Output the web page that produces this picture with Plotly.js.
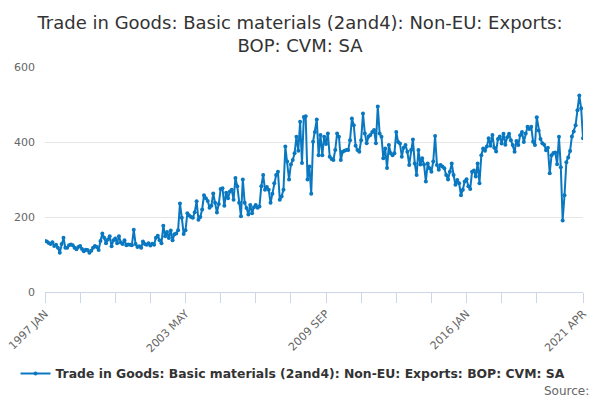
<!DOCTYPE html>
<html>
<head>
<meta charset="utf-8">
<script src="https://cdn.plot.ly/plotly-3.0.1.min.js"></script>
<style>
  body { margin: 0; background: #fff; }
  #chart { width: 600px; height: 400px; }
</style>
</head>
<body>
<div id="chart"></div>
<script>
var seriesName = 'Trade in Goods: Basic materials (2and4): Non-EU: Exports: BOP: CVM: SA';
var years = [1997, 1998, 1999, 2000, 2001, 2002, 2003, 2004, 2005, 2006, 2007, 2008,
  2009, 2010, 2011, 2012, 2013, 2014, 2015, 2016, 2017, 2018, 2019, 2020, 2021];
var months = ['JAN', 'FEB', 'MAR', 'APR', 'MAY', 'JUN', 'JUL', 'AUG', 'SEP', 'OCT', 'NOV', 'DEC'];
var lastMonth = '2021 APR';

// monthly values, one row per year
var values = [
  136, 135, 131, 128, 133, 123, 126, 118, 105, 128, 145, 118,
  118, 125, 127, 125, 118, 114, 120, 123, 115, 109, 113, 112,
  105, 110, 118, 123, 120, 112, 136, 156, 145, 130, 140, 149,
  122, 138, 143, 130, 149, 132, 128, 138, 125, 127, 126, 125,
  166, 128, 120, 122, 118, 135, 128, 126, 130, 124, 129, 126,
  145, 150, 138, 130, 177, 149, 160, 144, 164, 138, 154, 156,
  165, 236, 198, 155, 165, 210, 204, 200, 198, 213, 242, 193,
  200, 220, 258, 250, 243, 225, 230, 263, 238, 212, 235, 275,
  277, 230, 265, 250, 268, 273, 246, 304, 282, 238, 202, 300,
  238, 224, 207, 232, 210, 226, 232, 225, 228, 282, 312, 273,
  280, 273, 238, 262, 290, 312, 321, 246, 255, 273, 388, 348,
  300, 340, 352, 370, 414, 377, 454, 344, 467, 469, 300, 335,
  262, 401, 427, 460, 365, 419, 365, 414, 395, 423, 361, 355,
  352, 379, 423, 414, 352, 374, 377, 379, 379, 405, 463, 445,
  390, 379, 374, 405, 476, 423, 397, 415, 419, 427, 432, 397,
  495, 423, 414, 357, 383, 331, 392, 370, 365, 370, 427, 400,
  396, 361, 385, 392, 374, 339, 379, 407, 343, 312, 379, 340,
  357, 340, 295, 343, 330, 321, 348, 416, 339, 326, 339, 335,
  330, 312, 300, 321, 343, 312, 286, 299, 290, 258, 273, 295,
  301, 282, 275, 321, 324, 308, 343, 290, 365, 383, 377, 388,
  410, 390, 419, 385, 375, 408, 415, 396, 422, 393, 413, 422,
  405, 392, 374, 403, 392, 418, 427, 400, 423, 441, 435, 441,
  401, 392, 466, 431, 408, 397, 393, 378, 385, 317, 365, 371,
  372, 341, 414, 333, 191, 258, 346, 359, 376, 415, 428, 445,
  485, 524, 490, 410
];
var tickLabels = ['1997 JAN', '2003 MAY', '2009 SEP', '2016 JAN', '2021 APR'];
var yTicks = [0, 200, 400, 600];

// build month categories up to the last month
var categories = [];
for (var a = 0; a < years.length; a++) {
  for (var m = 0; m < months.length; m++) {
    var lab = years[a] + ' ' + months[m];
    categories.push(lab);
    if (lab === lastMonth) break;
  }
}

// tick every 19 months, plus the last month
var tickvals = [];
var ticktext = [];
for (var i = 0; i < categories.length; i += 19) {
  if (categories.length - 1 - i < 10) break;
  tickvals.push(categories[i]);
}
tickvals.push(categories[categories.length - 1]);
for (var k = 0; k < tickvals.length; k++) {
  ticktext.push(tickLabels.indexOf(tickvals[k]) >= 0 ? tickvals[k] : '');
}

var trace = {
  x: categories,
  y: values,
  name: seriesName,
  type: 'scatter',
  mode: 'lines+markers',
  line: { color: '#0a78c0', width: 2 },
  marker: { color: '#0a78c0', size: 4 },
  showlegend: true
};

var layout = {
  width: 600,
  height: 400,
  margin: { l: 45, r: 17, t: 67, b: 107 },
  paper_bgcolor: '#fff',
  plot_bgcolor: '#fff',
  font: { family: 'DejaVu Sans, sans-serif', color: '#666' },
  title: {
    text: 'Trade in Goods: Basic materials (2and4): Non-EU: Exports:<br>BOP: CVM: SA',
    font: { size: 18, color: '#333', family: 'DejaVu Sans, sans-serif' },
    x: 0.5, xanchor: 'center',
    y: 0.9275, yref: 'container', yanchor: 'middle'
  },
  xaxis: {
    type: 'category',
    range: [0, categories.length - 1],
    tickvals: tickvals,
    ticktext: ticktext,
    tickangle: -45,
    ticks: 'outside',
    ticklen: 10,
    tickcolor: '#ccd6eb',
    showline: true,
    linecolor: '#ccd6eb',
    showgrid: false,
    zeroline: false,
    tickfont: { size: 11, color: '#666' }
  },
  yaxis: {
    range: [0, 600],
    tickvals: yTicks,
    gridcolor: '#e6e6e6',
    showline: false,
    zeroline: false,
    ticklabelstandoff: 9,
    tickfont: { size: 11, color: '#666' }
  },
  legend: {
    orientation: 'h',
    x: 0.461, xanchor: 'center',
    y: -0.358, yanchor: 'middle',
    itemwidth: 30,
    font: { size: 12.4, color: '#333', weight: 'bold' }
  },
  annotations: [{
    text: 'Source:',
    xref: 'paper', yref: 'paper',
    x: 1.014, xanchor: 'right',
    y: -0.44, yanchor: 'middle',
    showarrow: false,
    font: { size: 12, color: '#666' }
  }]
};

Plotly.newPlot('chart', [trace], layout, { displayModeBar: false, staticPlot: true });
</script>
</body>
</html>
